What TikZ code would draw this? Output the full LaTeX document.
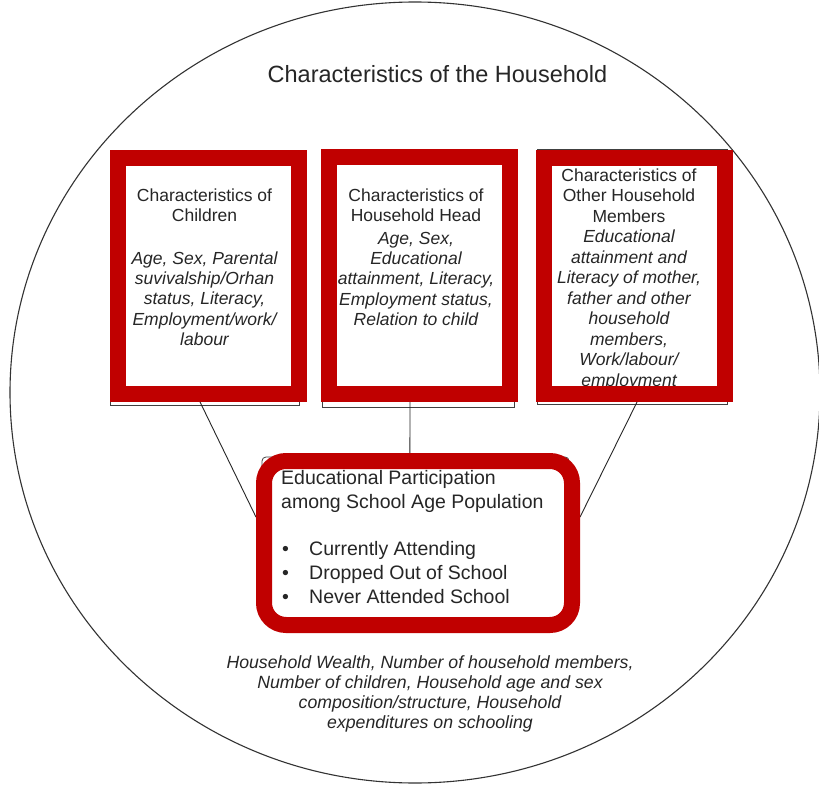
\documentclass[tikz,border=0pt]{standalone}
\usepackage{fontspec}
\setmainfont{Liberation Sans}
\usetikzlibrary{calc}
\definecolor{framered}{RGB}{192,0,0}
\newcommand{\mybul}{\makebox[28pt][l]{\hspace{1pt}{\fontsize{19.5}{19.5}\selectfont\char"2022}}}
\begin{document}
\begin{tikzpicture}[x=1pt,y=-1pt,
  redbox/.style={draw=framered,line width=16pt,fill=none,inner sep=0pt,
    minimum width=181pt,minimum height=236pt},
  roundbox/.style={draw=framered,line width=16pt,fill=none,inner sep=0pt,
    rounded corners=22pt,minimum width=308pt,minimum height=164pt},
  thinout/.style={draw=black!75,line width=0.8pt},
  conn/.style={draw=black!85,line width=0.9pt},
  boxtext/.style={align=center,inner sep=0pt,text=black!85,
    font=\fontsize{17.5}{20.2}\selectfont},
]
\fill[white] (0,0) rectangle (819,786);
\useasboundingbox (0,0) rectangle (819,786);

% outer household circle
\draw[black!80,line width=1.1pt] (415,392.5) ellipse [x radius=405pt, y radius=390.5pt];

% title
\node[anchor=base,inner sep=0pt,text=black!85] (title) at (437.5,83)
  {\fontsize{23.5}{28}\selectfont Characteristics of the Household};

% thin outlines behind the red frames
\draw[thinout] (110,150) rectangle (299,405);
\draw[thinout] (322,149) rectangle (514,407);
\draw[thinout] (537,149) rectangle (727,404);
\draw[thinout,rounded corners=4pt] (262,480) -- (262,457) -- (569,457) -- (569,480);

% frame nodes (named, drawn later on top of text)
\path node[redbox,draw=none] (c1) at (208.5,276) {}
      node[redbox,draw=none] (c2) at (419.5,275.5) {}
      node[redbox,draw=none] (c3) at (634.5,276) {}
      node[roundbox,draw=none] (e) at (418,543) {};

% connectors
\draw[conn] ($(c1.south west)!0.457!(c1.south east)$) -- ($(e.north west)!0.356!(e.south west)$);
\draw[conn] ($(c2.south west)!0.452!(c2.south east)$) -- ($(e.north west)!0.475!(e.north east)$);
\draw[conn] ($(c3.south west)!0.513!(c3.south east)$) -- ($(e.north east)!0.356!(e.south east)$);

% box texts
\node[boxtext,anchor=north] (t1) at (204.5,188.3)
  {Characteristics of\\Children\\[23pt]\itshape Age, Sex, Parental\\\itshape suvivalship/Orhan\\\itshape status, Literacy,\\\itshape Employment/work/\\\itshape labour};
\node[boxtext,anchor=north] (t2) at (416,188.3)
  {Characteristics of\\Household Head\\[3pt]\itshape Age, Sex,\\\itshape Educational\\\itshape attainment, Literacy,\\\itshape Employment status,\\\itshape Relation to child};
\node[boxtext,anchor=north,font=\fontsize{17.5}{20.5}\selectfont] (t3) at (629,168.3)
  {Characteristics of\\Other Household\\Members\\\itshape Educational\\\itshape attainment and\\\itshape Literacy of mother,\\\itshape father and other\\\itshape household\\\itshape members,\\\itshape Work/labour/\\\itshape employment};

% participation box text
\node[align=left,anchor=north west,inner sep=0pt,text=black!85,
      font=\fontsize{19.5}{24}\selectfont] (t4) at (281,470.3)
  {Educational Participation\\among School Age Population\\[22.5pt]
   \mybul Currently Attending\\\mybul Dropped Out of School\\\mybul Never Attended School};

% household-level text
\node[align=center,anchor=north,inner sep=0pt,text=black!85,
      font=\fontsize{17.7}{20}\selectfont] (t5) at (430,655)
  {\itshape Household Wealth, Number of household members,\\\itshape Number of children, Household age and sex\\\itshape composition/structure, Household\\\itshape expenditures on schooling};

% red frames on top
\draw[draw=framered,line width=16pt] (c1.center) ++(-90.5,-118) rectangle ++(181,236);
\draw[draw=framered,line width=16pt] (c2.center) ++(-90.5,-118) rectangle ++(181,236);
\draw[draw=framered,line width=16pt] (c3.center) ++(-90.5,-118) rectangle ++(181,236);
\draw[draw=framered,line width=16pt,rounded corners=22pt] (e.center) ++(-154,-82) rectangle ++(308,164);
\end{tikzpicture}
\end{document}
